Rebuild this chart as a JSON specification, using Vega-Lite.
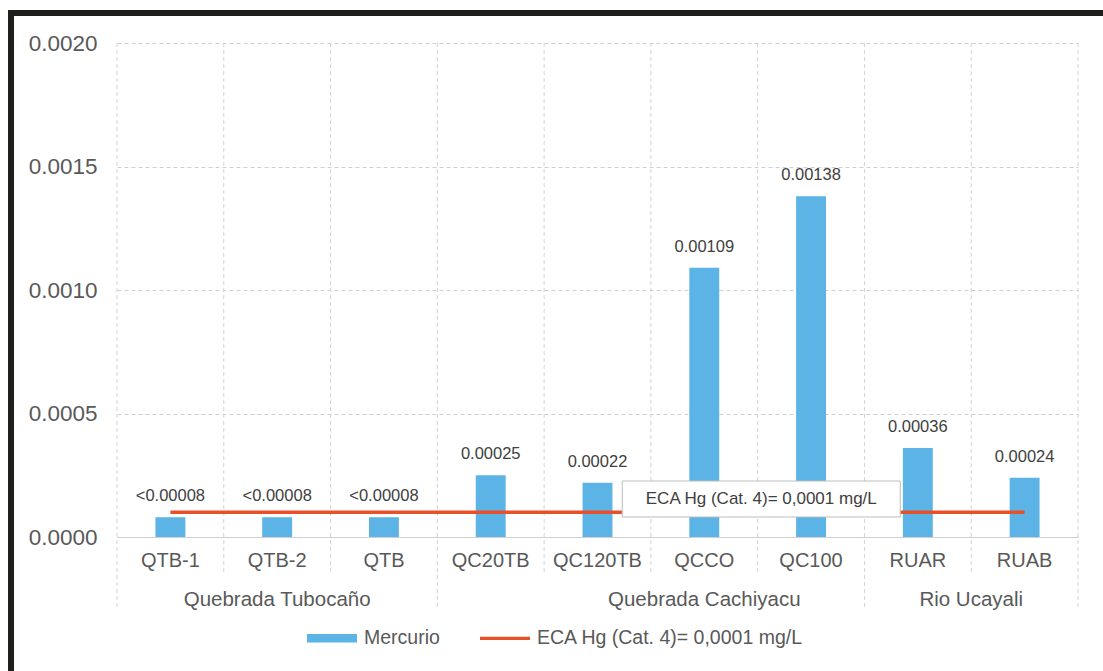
{
  "$schema": "https://vega.github.io/schema/vega-lite/v6.json",
  "width": 961,
  "height": 494,
  "autosize": {"type": "none"},
  "padding": {"left": 117, "top": 43, "right": 25, "bottom": 134},
  "background": "white",
  "config": {
    "view": {"stroke": null},
    "font": "Liberation Sans",
    "axisX": {"labelFontSize": 20, "labelColor": "#595959", "labelPadding": 13, "ticks": false, "domainColor": "#d0d0d0", "domainWidth": 1, "grid": false, "labelAngle": 0},
    "axisY": {"labelFontSize": 22.5, "labelColor": "#595959", "labelPadding": 20, "ticks": false, "domain": false, "grid": true, "gridColor": "#cfcfcf", "gridDash": [4, 3], "gridWidth": 1}
  },
  "datasets": {
    "samples": [
      {"cat": "QTB-1", "group": "Quebrada Tubocaño", "value": 0.00008, "label": "<0.00008", "eca": 0.0001},
      {"cat": "QTB-2", "group": "Quebrada Tubocaño", "value": 0.00008, "label": "<0.00008", "eca": 0.0001},
      {"cat": "QTB", "group": "Quebrada Tubocaño", "value": 0.00008, "label": "<0.00008", "eca": 0.0001},
      {"cat": "QC20TB", "group": "Quebrada Cachiyacu", "value": 0.00025, "label": "0.00025", "eca": 0.0001},
      {"cat": "QC120TB", "group": "Quebrada Cachiyacu", "value": 0.00022, "label": "0.00022", "eca": 0.0001},
      {"cat": "QCCO", "group": "Quebrada Cachiyacu", "value": 0.00109, "label": "0.00109", "eca": 0.0001},
      {"cat": "QC100", "group": "Quebrada Cachiyacu", "value": 0.00138, "label": "0.00138", "eca": 0.0001},
      {"cat": "RUAR", "group": "Rio Ucayali", "value": 0.00036, "label": "0.00036", "eca": 0.0001},
      {"cat": "RUAB", "group": "Rio Ucayali", "value": 0.00024, "label": "0.00024", "eca": 0.0001}
    ],
    "inner": [{"cat": "QTB-2"}, {"cat": "QTB"}, {"cat": "QC120TB"}, {"cat": "QCCO"}, {"cat": "QC100"}, {"cat": "RUAB"}],
    "outer": [{"cat": "QTB-1"}, {"cat": "QC20TB"}, {"cat": "RUAR"}],
    "groups": [{"anchor": "QTB-2", "name": "Quebrada Tubocaño"}, {"anchor": "QCCO", "name": "Quebrada Cachiyacu"}],
    "one": [{"note": "annotation"}]
  },
  "layer": [
    {
      "data": {"name": "inner"},
      "mark": {"type": "rule", "color": "#d3d3d3", "strokeDash": [4, 3], "strokeWidth": 1},
      "encoding": {
        "x": {"field": "cat", "type": "nominal", "bandPosition": 0, "title": null, "scale": {"domain": ["QTB-1", "QTB-2", "QTB", "QC20TB", "QC120TB", "QCCO", "QC100", "RUAR", "RUAB"], "paddingInner": 0, "paddingOuter": 0}},
        "y": {"datum": 0.002, "type": "quantitative", "title": null},
        "y2": {"datum": -0.000154}
      }
    },
    {
      "data": {"name": "outer"},
      "mark": {"type": "rule", "color": "#d3d3d3", "strokeDash": [4, 3], "strokeWidth": 1},
      "encoding": {
        "x": {"field": "cat", "type": "nominal", "bandPosition": 0, "title": null},
        "y": {"datum": 0.002, "type": "quantitative", "title": null},
        "y2": {"datum": -0.000296}
      }
    },
    {
      "data": {"name": "one"},
      "mark": {"type": "rule", "color": "#d3d3d3", "strokeDash": [4, 3], "strokeWidth": 1},
      "encoding": {
        "x": {"datum": "RUAB", "type": "nominal", "bandPosition": 1, "title": null},
        "y": {"datum": 0.002, "type": "quantitative", "title": null},
        "y2": {"datum": -0.000296}
      }
    },
    {
      "data": {"name": "samples"},
      "mark": {"type": "bar", "width": {"band": 0.28}},
      "encoding": {
        "x": {"field": "cat", "type": "nominal", "title": null, "sort": null},
        "y": {"field": "value", "type": "quantitative", "title": null, "scale": {"domain": [0, 0.002], "nice": false}, "axis": {"values": [0, 0.0005, 0.001, 0.0015, 0.002], "format": ".4f", "grid": true}},
        "color": {"datum": "Mercurio", "type": "nominal", "scale": {"domain": ["Mercurio", "ECA Hg (Cat. 4)= 0,0001 mg/L"], "range": ["#5BB3E6", "#E8502A"]},
          "legend": {"title": null, "orient": "none", "legendX": 190, "legendY": 570, "direction": "horizontal", "columnPadding": 40, "symbolSize": 2500, "labelFontSize": 19.5, "labelColor": "#595959", "labelOffset": 7, "labelLimit": 0, "padding": 0,
            "encode": {"symbols": {"update": {"shape": {"signal": "datum.value === 'Mercurio' ? 'M-1,-0.17H1V0.17H-1Z' : 'M-1,-0.065H1V0.065H-1Z'"}, "fill": {"scale": "color", "field": "value"}, "stroke": {"value": "transparent"}, "strokeWidth": {"value": 0}, "opacity": {"value": 1}, "fillOpacity": {"value": 1}}}}}}
      }
    },
    {
      "data": {"name": "samples"},
      "mark": {"type": "line", "strokeWidth": 3.5},
      "encoding": {
        "x": {"field": "cat", "type": "nominal", "title": null, "sort": null},
        "y": {"field": "eca", "type": "quantitative", "title": null},
        "color": {"datum": "ECA Hg (Cat. 4)= 0,0001 mg/L", "type": "nominal"}
      }
    },
    {
      "data": {"name": "one"},
      "mark": {"type": "bar", "width": 278, "xOffset": 57, "fill": "white", "stroke": "#bdbdbd", "strokeWidth": 1},
      "encoding": {
        "x": {"datum": "QCCO", "type": "nominal", "title": null},
        "y": {"datum": 0.0002267, "type": "quantitative", "title": null},
        "y2": {"datum": 0.000081}
      }
    },
    {
      "data": {"name": "one"},
      "mark": {"type": "text", "text": "ECA Hg (Cat. 4)= 0,0001 mg/L", "fontSize": 17, "color": "#404040", "dx": 57, "baseline": "middle", "align": "center"},
      "encoding": {
        "x": {"datum": "QCCO", "type": "nominal", "title": null},
        "y": {"datum": 0.000154, "type": "quantitative", "title": null}
      }
    },
    {
      "data": {"name": "samples"},
      "mark": {"type": "text", "fontSize": 16.5, "color": "#404040", "dy": -21, "baseline": "middle", "align": "center"},
      "encoding": {
        "x": {"field": "cat", "type": "nominal", "title": null, "sort": null},
        "y": {"field": "value", "type": "quantitative", "title": null},
        "text": {"field": "label"}
      }
    },
    {
      "data": {"name": "groups"},
      "mark": {"type": "text", "fontSize": 20.5, "color": "#595959", "baseline": "middle", "align": "center"},
      "encoding": {
        "x": {"field": "anchor", "type": "nominal", "title": null},
        "y": {"datum": -0.000255, "type": "quantitative", "title": null},
        "text": {"field": "name"}
      }
    },
    {
      "data": {"name": "one"},
      "mark": {"type": "text", "text": "Rio Ucayali", "fontSize": 20.5, "color": "#595959", "baseline": "middle", "align": "center"},
      "encoding": {
        "x": {"datum": "RUAR", "type": "nominal", "bandPosition": 1, "title": null},
        "y": {"datum": -0.000255, "type": "quantitative", "title": null}
      }
    },
    {
      "data": {"name": "one"},
      "mark": {"type": "rect", "filled": false, "stroke": "#1e1e1a", "strokeWidth": 6},
      "encoding": {
        "x": {"datum": "QTB-1", "type": "nominal", "bandPosition": -0.9925, "title": null},
        "x2": {"datum": "RUAB", "bandPosition": 1.6},
        "y": {"datum": 0.0021215, "type": "quantitative", "title": null},
        "y2": {"datum": -0.0007}
      }
    }
  ]
}
